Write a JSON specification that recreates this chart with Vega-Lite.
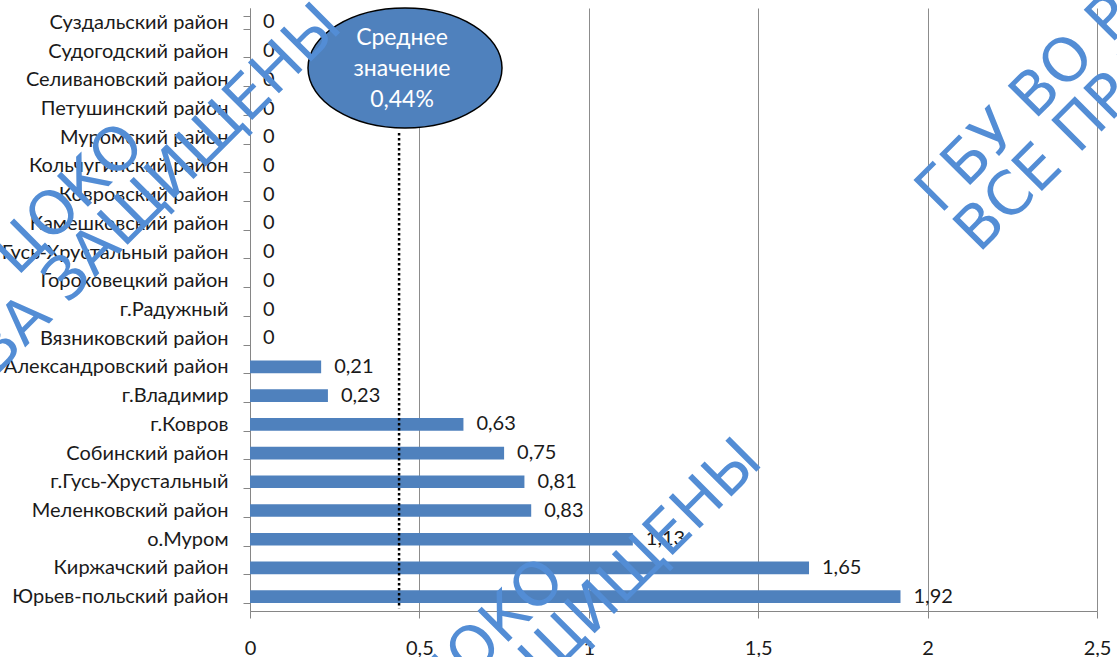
{
  "$schema": "https://vega.github.io/schema/vega-lite/v6.json",
  "width": 847,
  "height": 603,
  "autosize": {"type": "none"},
  "padding": {"left": 250, "top": 8, "right": 20, "bottom": 46},
  "config": {
    "locale": {"number": {"decimal": ",", "thousands": "\u00a0", "grouping": [3], "currency": ["", " ₽"]}},
    "view": {"stroke": null},
    "font": "Lato"
  },
  "datasets": {
    "rows": [
      {"district": "Суздальский район", "value": 0},
      {"district": "Судогодский район", "value": 0},
      {"district": "Селивановский район", "value": 0},
      {"district": "Петушинский район", "value": 0},
      {"district": "Муромский район", "value": 0},
      {"district": "Кольчугинский район", "value": 0},
      {"district": "Ковровский район", "value": 0},
      {"district": "Камешковский район", "value": 0},
      {"district": "Гусь-Хрустальный район", "value": 0},
      {"district": "Гороховецкий район", "value": 0},
      {"district": "г.Радужный", "value": 0},
      {"district": "Вязниковский район", "value": 0},
      {"district": "Александровский район", "value": 0.21},
      {"district": "г.Владимир", "value": 0.23},
      {"district": "г.Ковров", "value": 0.63},
      {"district": "Собинский район", "value": 0.75},
      {"district": "г.Гусь-Хрустальный", "value": 0.81},
      {"district": "Меленковский район", "value": 0.83},
      {"district": "о.Муром", "value": 1.13},
      {"district": "Киржачский район", "value": 1.65},
      {"district": "Юрьев-польский район", "value": 1.92}
    ],
    "mean": [{"label": "Среднее значение", "mean": 0.44}]
  },
  "resolve": {"scale": {"y": "independent"}},
  "layer": [
    {
      "data": {"name": "rows"},
      "encoding": {
        "y": {
          "field": "district", "type": "nominal", "sort": null,
          "scale": {"paddingInner": 0.56, "paddingOuter": 0.28},
          "axis": {
            "title": null, "tickBand": "extent", "tickSize": 7,
            "tickColor": "#868686", "domainColor": "#868686", "domainWidth": 1,
            "labelFont": "Lato", "labelFontSize": 20, "labelColor": "#1a1a1a",
            "labelPadding": 15, "labelLimit": 400, "grid": false
          }
        },
        "x": {
          "field": "value", "type": "quantitative",
          "scale": {"domain": [0, 2.5], "nice": false, "zero": true},
          "axis": {
            "title": null, "values": [0, 0.5, 1, 1.5, 2, 2.5], "format": ".1~f",
            "grid": true, "gridColor": "#8c8c8c", "gridWidth": 1,
            "tickSize": 7, "tickColor": "#868686", "domainColor": "#868686",
            "labelPadding": 20, "labelFont": "Lato", "labelFontSize": 20,
            "labelColor": "#1a1a1a", "labelFlush": false, "labelBound": false
          }
        }
      },
      "layer": [
        {"mark": {"type": "bar", "color": "#4F81BD"}},
        {
          "mark": {"type": "text", "align": "left", "baseline": "middle", "dx": 13, "font": "Lato", "fontSize": 20, "color": "#1a1a1a"},
          "encoding": {"text": {"field": "value", "type": "quantitative", "format": ".2~f"}}
        }
      ]
    },
    {
      "data": {"name": "mean"},
      "layer": [
        {
          "mark": {"type": "rule", "color": "#000000", "strokeWidth": 2.5, "strokeDash": [2.5, 2.5], "strokeCap": "butt"},
          "encoding": {
            "x": {"field": "mean", "type": "quantitative", "scale": {"domain": [0, 2.5], "nice": false}},
            "y": {"datum": 4.35, "type": "quantitative", "scale": {"domain": [0, 21], "reverse": true, "nice": false, "zero": false}, "axis": null},
            "y2": {"datum": 20.9}
          }
        },
        {
          "mark": {
            "type": "point", "filled": true, "opacity": 1, "fill": "#4F81BD", "stroke": "#000000", "strokeWidth": 1.5,
            "shape": "M 1 0 C 1 0.3418 0.5523 0.619 0 0.619 C -0.5523 0.619 -1 0.3418 -1 0 C -1 -0.3418 -0.5523 -0.619 0 -0.619 C 0.5523 -0.619 1 -0.3418 1 0 Z",
            "size": 37636
          },
          "encoding": {
            "x": {"datum": 0.4575, "type": "quantitative"},
            "y": {"datum": 2.09, "type": "quantitative", "axis": null}
          }
        },
        {
          "mark": {"type": "text", "text": ["Среднее", "значение", "0,44%"], "align": "center", "baseline": "middle", "lineHeight": 31, "font": "Lato", "fontSize": 23, "color": "#ffffff"},
          "encoding": {
            "x": {"datum": 0.4486, "type": "quantitative"},
            "y": {"datum": 1.045, "type": "quantitative", "axis": null}
          }
        },
        {
          "encoding": {
            "x": {"datum": 2.037, "type": "quantitative"},
            "y": {"datum": 7.21, "type": "quantitative", "axis": null}
          },
          "layer": [
            {"mark": {"type": "text", "text": "ГБУ ВО РЦОКО", "align": "left", "baseline": "alphabetic", "angle": -45, "font": "DejaVu Sans", "fontSize": 60, "color": "#538DD5"}},
            {"mark": {"type": "text", "text": "ВСЕ ПРАВА ЗАЩИЩЕНЫ", "align": "left", "baseline": "alphabetic", "angle": -45, "dy": 55, "font": "DejaVu Sans", "fontSize": 60, "color": "#538DD5"}}
          ]
        },
        {
          "encoding": {
            "x": {"datum": -0.0236, "type": "quantitative"},
            "y": {"datum": 31.35, "type": "quantitative", "axis": null}
          },
          "layer": [
            {"mark": {"type": "text", "text": "ГБУ ВО РЦОКО", "align": "left", "baseline": "alphabetic", "angle": -45, "font": "DejaVu Sans", "fontSize": 60, "color": "#538DD5"}},
            {"mark": {"type": "text", "text": "ВСЕ ПРАВА ЗАЩИЩЕНЫ", "align": "left", "baseline": "alphabetic", "angle": -45, "dx": -71, "dy": 55, "font": "DejaVu Sans", "fontSize": 60, "color": "#538DD5"}}
          ]
        },
        {
          "encoding": {
            "x": {"datum": -1.265, "type": "quantitative"},
            "y": {"datum": 16.2, "type": "quantitative", "axis": null}
          },
          "layer": [
            {"mark": {"type": "text", "text": "ГБУ ВО РЦОКО", "align": "left", "baseline": "alphabetic", "angle": -45, "font": "DejaVu Sans", "fontSize": 60, "color": "#538DD5"}},
            {"mark": {"type": "text", "text": "ВСЕ ПРАВА ЗАЩИЩЕНЫ", "align": "left", "baseline": "alphabetic", "angle": -45, "dx": -71, "dy": 55, "font": "DejaVu Sans", "fontSize": 60, "color": "#538DD5"}}
          ]
        }
      ]
    }
  ]
}
